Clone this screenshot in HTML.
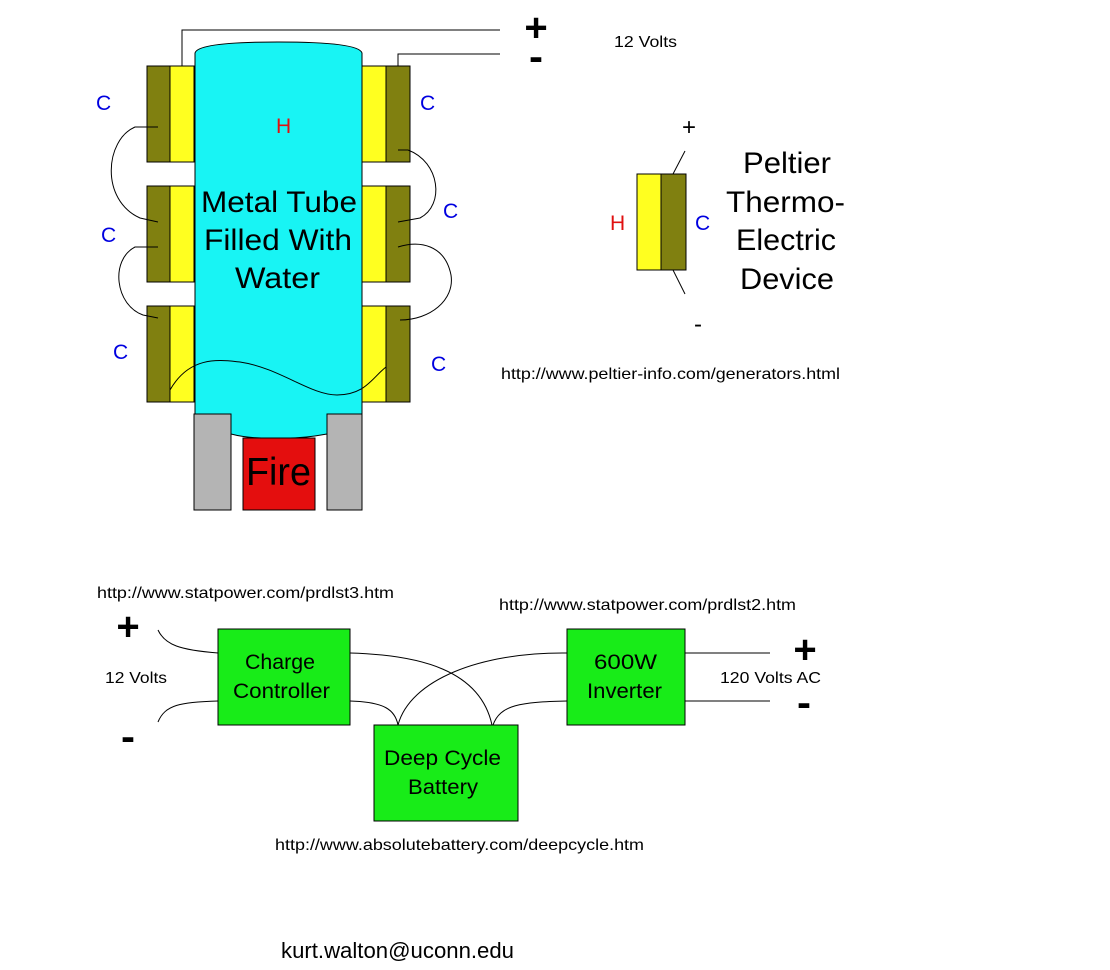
<!DOCTYPE html>
<html><head><meta charset="utf-8"><style>
html,body{margin:0;padding:0;background:#fff}
svg{display:block}
text{font-family:"Liberation Sans",Arial,sans-serif}
</style></head><body>
<svg width="1110" height="970" viewBox="0 0 1110 970" xmlns="http://www.w3.org/2000/svg">
<g stroke="#000" stroke-width="1">
<polyline points="182,66 182,30 500,30" fill="none"/>
<polyline points="398,66 398,54 500,54" fill="none"/>
<rect x="147" y="66" width="23" height="96" fill="#808010"/>
<rect x="170" y="66" width="24" height="96" fill="#ffff20"/>
<rect x="147" y="186" width="23" height="96" fill="#808010"/>
<rect x="170" y="186" width="24" height="96" fill="#ffff20"/>
<rect x="147" y="306" width="23" height="96" fill="#808010"/>
<rect x="170" y="306" width="24" height="96" fill="#ffff20"/>
<rect x="362" y="66" width="24" height="96" fill="#ffff20"/>
<rect x="386" y="66" width="24" height="96" fill="#808010"/>
<rect x="362" y="186" width="24" height="96" fill="#ffff20"/>
<rect x="386" y="186" width="24" height="96" fill="#808010"/>
<rect x="362" y="306" width="24" height="96" fill="#ffff20"/>
<rect x="386" y="306" width="24" height="96" fill="#808010"/>
<path d="M195,53 Q198,42 278,42 Q359,42 362,53 L362,414 L327,414 L327,434 Q300,439 278,438 Q250,439 231,434 L231,414 L195,414 Z" fill="#18f4f4"/>
<rect x="194" y="414" width="37" height="96" fill="#b4b4b4"/>
<rect x="327" y="414" width="35" height="96" fill="#b4b4b4"/>
<rect x="243" y="438" width="72" height="72" fill="#e40e0e"/>
</g>
<g fill="none" stroke="#000" stroke-width="1">
<path d="M158,127 L135,127 C105,140 100,200 140,218 L158,222"/>
<path d="M158,247 L135,247 C110,260 115,305 143,315 L158,318"/>
<path d="M398,150 L408,150 C440,162 445,205 420,218 L398,222"/>
<path d="M398,247 C420,240 445,245 451,275 C455,300 430,320 400,320"/>
<path d="M170,390 C190,355 220,360 240,362 C280,368 310,395 337,395 C365,395 372,378 386,367"/>
<line x1="673" y1="174" x2="685" y2="151"/>
<line x1="673" y1="270" x2="685" y2="294"/>
<path d="M158,630 C165,645 180,650 218,653"/>
<path d="M158,722 C165,705 180,702 218,701"/>
<path d="M350,653 C420,655 480,670 492,725"/>
<path d="M350,701 C385,702 395,710 398,725"/>
<path d="M567,653 C480,652 410,680 398,725"/>
<path d="M567,701 C520,702 500,705 493,725"/>
<line x1="685" y1="653" x2="770" y2="653"/>
<line x1="685" y1="701" x2="770" y2="701"/>
</g>
<rect x="637" y="174" width="24" height="96" fill="#ffff20" stroke="#000"/>
<rect x="661" y="174" width="25" height="96" fill="#808010" stroke="#000"/>
<g stroke="#000" fill="#18ec18">
<rect x="218" y="629" width="132" height="96"/>
<rect x="567" y="629" width="118" height="96"/>
<rect x="374" y="725" width="144" height="96"/>
</g>
<g font-size="21" fill="#0000e0">
<text x="96" y="110">C</text><text x="420" y="110">C</text>
<text x="101" y="242">C</text><text x="443" y="218">C</text>
<text x="113" y="359">C</text><text x="431" y="371">C</text>
<text x="695" y="230">C</text>
</g>
<g font-size="21" fill="#e01010">
<text x="276" y="133">H</text><text x="610" y="230">H</text>
</g>
<g font-size="30" lengthAdjust="spacingAndGlyphs">
<text x="201" y="212" textLength="156" lengthAdjust="spacingAndGlyphs">Metal Tube</text>
<text x="204" y="250" textLength="148" lengthAdjust="spacingAndGlyphs">Filled With</text>
<text x="235" y="288" textLength="85" lengthAdjust="spacingAndGlyphs">Water</text>
<text x="743" y="173" textLength="88" lengthAdjust="spacingAndGlyphs">Peltier</text>
<text x="726" y="212" textLength="119" lengthAdjust="spacingAndGlyphs">Thermo-</text>
<text x="736" y="250" textLength="100" lengthAdjust="spacingAndGlyphs">Electric</text>
<text x="740" y="289" textLength="94" lengthAdjust="spacingAndGlyphs">Device</text>
</g>
<text x="246" y="485" font-size="39" textLength="65" lengthAdjust="spacingAndGlyphs">Fire</text>
<g font-size="40" font-weight="bold" text-anchor="middle">
<text x="536" y="41">+</text>
<text x="128" y="640">+</text>
<text x="805" y="663">+</text>
</g>
<g font-size="40" font-weight="bold">
<text x="529" y="70" textLength="14" lengthAdjust="spacingAndGlyphs">-</text>
<text x="121" y="750" textLength="14" lengthAdjust="spacingAndGlyphs">-</text>
<text x="797" y="716" textLength="14" lengthAdjust="spacingAndGlyphs">-</text>
</g>
<g font-size="24" text-anchor="middle">
<text x="689" y="135">+</text>
<text x="698" y="332">-</text>
</g>
<g font-size="16">
<text x="614" y="47" textLength="63" lengthAdjust="spacingAndGlyphs">12 Volts</text>
<text x="501" y="379" textLength="339" lengthAdjust="spacingAndGlyphs">http://www.peltier-info.com/generators.html</text>
<text x="97" y="598" textLength="297" lengthAdjust="spacingAndGlyphs">http://www.statpower.com/prdlst3.htm</text>
<text x="499" y="610" textLength="297" lengthAdjust="spacingAndGlyphs">http://www.statpower.com/prdlst2.htm</text>
<text x="105" y="683" textLength="62" lengthAdjust="spacingAndGlyphs">12 Volts</text>
<text x="720" y="683" textLength="101" lengthAdjust="spacingAndGlyphs">120 Volts AC</text>
<text x="275" y="850" textLength="369" lengthAdjust="spacingAndGlyphs">http://www.absolutebattery.com/deepcycle.htm</text>
</g>
<g font-size="21">
<text x="245" y="669" textLength="70" lengthAdjust="spacingAndGlyphs">Charge</text>
<text x="233" y="698" textLength="97" lengthAdjust="spacingAndGlyphs">Controller</text>
<text x="594" y="669" textLength="63" lengthAdjust="spacingAndGlyphs">600W</text>
<text x="587" y="698" textLength="75" lengthAdjust="spacingAndGlyphs">Inverter</text>
<text x="384" y="765" textLength="117" lengthAdjust="spacingAndGlyphs">Deep Cycle</text>
<text x="408" y="794" textLength="70" lengthAdjust="spacingAndGlyphs">Battery</text>
</g>
<text x="281" y="958" font-size="22" textLength="233" lengthAdjust="spacingAndGlyphs">kurt.walton@uconn.edu</text>
</svg>
</body></html>
